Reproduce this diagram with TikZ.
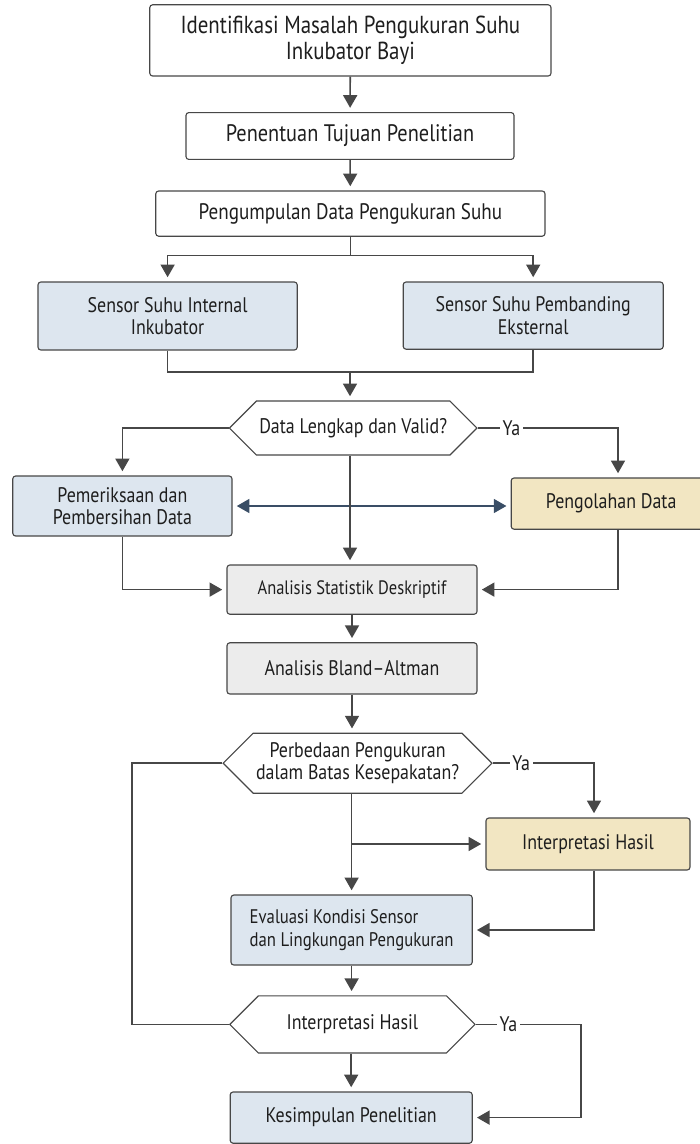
\documentclass[tikz,border=0pt]{standalone}
\usepackage{fontspec}
\setmainfont{PT Sans}[FakeStretch=0.85]
\usetikzlibrary{shapes.symbols,arrows.meta,calc}
\definecolor{lineC}{HTML}{474747}
\definecolor{bluF}{HTML}{DDE6EF}
\definecolor{gryF}{HTML}{ECECEC}
\definecolor{yelF}{HTML}{F2E6C2}
\definecolor{navC}{HTML}{3A4E66}
\definecolor{txtC}{HTML}{1E1E1E}

\begin{document}
\begin{tikzpicture}[x=1cm,y=1cm, font=\fontsize{15}{16}\selectfont,
  box/.style={draw=lineC, line width=0.8pt, rounded corners=2pt, align=center, inner sep=3pt, text=txtC, fill=white},
  blu/.style={box, fill=bluF},
  gry/.style={box, fill=gryF},
  yel/.style={box, fill=yelF},
  hexa/.style={signal, signal to=west and east, draw=lineC, line width=0.8pt, fill=white, align=center, inner sep=2pt, text=txtC},
  arr/.style={-{Triangle[length=9pt,width=10pt]}, line width=1.1pt, draw=lineC, shorten >=3pt},
  dbl/.style={{Triangle[length=9pt,width=10pt]}-{Triangle[length=9pt,width=10pt]}, line width=1.1pt, draw=navC, shorten >=3pt, shorten <=3pt},
  ln/.style={line width=1.1pt, draw=lineC},
  yes/.style={fill=white, inner sep=2pt, text=txtC},
  ]
\useasboundingbox (0,0) rectangle (17.5,-28.6);
% ---- top of the flow
\node[box, minimum width=10.03cm, minimum height=1.78cm, font=\fontsize{17.5}{18.5}\selectfont] (ident) at (8.76,-1.01) {Identifikasi Masalah Pengukuran Suhu\\Inkubator Bayi};
\node[box, minimum width=8.2cm, minimum height=1.17cm, font=\fontsize{17}{18}\selectfont] (tujuan) at (8.75,-3.4) {Penentuan Tujuan Penelitian};
\node[box, minimum width=9.73cm, minimum height=1.13cm, font=\fontsize{16}{17}\selectfont] (kumpul) at (8.76,-5.34) {Pengumpulan Data Pengukuran Suhu};
\node[blu, minimum width=6.48cm, minimum height=1.7cm] (sint) at (4.19,-7.9) {Sensor Suhu Internal\\Inkubator};
\node[blu, minimum width=6.5cm, minimum height=1.68cm] (sext) at (13.33,-7.89) {Sensor Suhu Pembanding\\Eksternal};
\draw[arr] (ident) -- (tujuan);
\draw[arr] (tujuan) -- (kumpul);
\coordinate (split) at ($(kumpul.south)+(0,-0.47)$);
\coordinate (merge) at (8.75,-9.3);
\draw[ln] (kumpul.south) -- (split);
\draw[arr] (split) -| (sint.north);
\draw[arr] (split) -| (sext.north);
\draw[ln] (sint.south) |- (merge) -| (sext.south);
% ---- checking the data
\node[hexa, minimum width=6.1cm, minimum height=1.35cm] (valid) at (8.83,-10.7) {Data Lengkap dan Valid?};
\node[blu, minimum width=5.48cm, minimum height=1.5cm] (periksa) at (3.06,-12.65) {Pemeriksaan dan\\Pembersihan Data};
\node[yel, minimum width=5.0cm, minimum height=1.28cm] (olah) at (15.28,-12.59) {Pengolahan Data};
\node[gry, minimum width=6.25cm, minimum height=1.23cm, font=\fontsize{13.8}{15}\selectfont] (stat) at (8.8,-14.74) {Analisis Statistik Deskriptif};
\node[gry, minimum width=6.25cm, minimum height=1.28cm] (bland) at (8.8,-16.71) {Analisis Bland--Altman};
\coordinate (olahX) at (15.45,0);
\draw[arr] (merge) -- (merge |- valid.north);
\draw[arr] (valid.west) -| (periksa.north);
\draw[arr] (valid.east) -| node[yes, pos=0.12] {Ya} (olahX |- olah.north);
\draw[dbl] (periksa.east) -- (periksa.east -| olah.west);
\draw[arr] (valid.south -| merge) -- (stat.north -| merge);
\draw[arr] (periksa.south) |- (stat.west);
\draw[arr] (olahX |- olah.south) |- (stat.east);
\draw[arr] (stat) -- (bland);
% ---- agreement and conclusion
\node[hexa, minimum width=6.33cm, minimum height=1.5cm] (beda) at (8.94,-19.08) {Perbedaan Pengukuran\\dalam Batas Kesepakatan?};
\node[yel, minimum width=5.1cm, minimum height=1.3cm] (interp) at (14.7,-21.1) {Interpretasi Hasil};
\node[blu, minimum width=6.03cm, minimum height=1.75cm, align=left, font=\fontsize{14}{16}\selectfont] (eval) at (8.79,-23.25) {Evaluasi Kondisi Sensor\\dan Lingkungan Pengukuran};
\node[hexa, minimum width=6.13cm, minimum height=1.43cm] (hasil) at (8.81,-25.61) {Interpretasi Hasil};
\node[blu, minimum width=6.05cm, minimum height=1.28cm] (simpul) at (8.78,-27.94) {Kesimpulan Penelitian};
\coordinate (interpX) at (14.85,0);
\coordinate (yaR) at (14.53,0);
\coordinate (loopX) at (3.3,0);
\draw[arr] (bland.south) -- (bland.south |- beda.north);
\draw[arr] (beda.east) -| node[yes, pos=0.14] {Ya} (interpX |- interp.north);
\draw[arr] (beda.south -| eval.north) -- (eval.north);
\draw[arr] (eval.north |- interp.west) -- (interp.west);
\draw[arr] (interpX |- interp.south) |- (eval.east);
\draw[arr] (eval.south) -- (eval.south |- hasil.north);
\draw[arr] (hasil.south -| simpul.north) -- (simpul.north);
\draw[arr] (hasil.east) -- node[yes, pos=0.31] {Ya} (hasil.east -| yaR) |- (simpul.east);
\draw[ln] (beda.west) -- (beda.west -| loopX) |- (hasil.west);
\end{tikzpicture}
\end{document}
